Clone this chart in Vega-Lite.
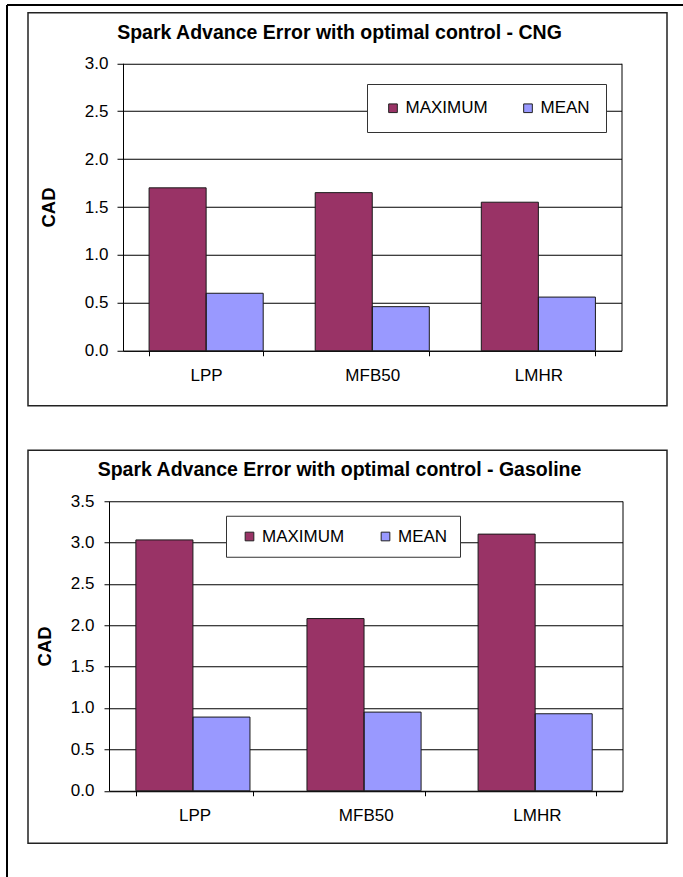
{
  "$schema": "https://vega.github.io/schema/vega-lite/v6.json",
  "padding": {"left": 6.5, "top": 4.5, "right": 0, "bottom": 0},
  "background": "white",
  "config": {
    "font": "Liberation Sans",
    "view": {"stroke": "#222", "strokeWidth": 1.5},
    "axis": {
      "labelFont": "Liberation Sans", "labelColor": "#000", "labelFontSize": 17,
      "titleFont": "Liberation Sans", "titleColor": "#000",
      "domainColor": "#000", "tickColor": "#000", "gridColor": "#000", "gridOpacity": 1, "gridWidth": 1
    },
    "legend": {
      "labelFont": "Liberation Sans", "labelColor": "#000", "labelFontSize": 17
    }
  },
  "data": {"values": [
    {"fuel": "CNG", "method": "LPP", "stat": "MAXIMUM", "value": 1.70},
    {"fuel": "CNG", "method": "LPP", "stat": "MEAN", "value": 0.60},
    {"fuel": "CNG", "method": "MFB50", "stat": "MAXIMUM", "value": 1.65},
    {"fuel": "CNG", "method": "MFB50", "stat": "MEAN", "value": 0.46},
    {"fuel": "CNG", "method": "LMHR", "stat": "MAXIMUM", "value": 1.55},
    {"fuel": "CNG", "method": "LMHR", "stat": "MEAN", "value": 0.56},
    {"fuel": "Gasoline", "method": "LPP", "stat": "MAXIMUM", "value": 3.03},
    {"fuel": "Gasoline", "method": "LPP", "stat": "MEAN", "value": 0.89},
    {"fuel": "Gasoline", "method": "MFB50", "stat": "MAXIMUM", "value": 2.08},
    {"fuel": "Gasoline", "method": "MFB50", "stat": "MEAN", "value": 0.95},
    {"fuel": "Gasoline", "method": "LMHR", "stat": "MAXIMUM", "value": 3.10},
    {"fuel": "Gasoline", "method": "LMHR", "stat": "MEAN", "value": 0.93}
  ]},
  "columns": 1,
  "align": "none",
  "spacing": -863.75,
  "bounds": "flush",
  "concat": [
    {
      "data": {"values": []},
      "width": 676, "height": 872,
      "view": {"stroke": null},
      "mark": "point",
      "encoding": {
        "x": {"field": "fx", "type": "quantitative", "scale": {"domain": [0, 1]},
          "axis": {"orient": "top", "labels": false, "ticks": false, "grid": false, "title": null, "domain": true, "domainColor": "#000", "domainWidth": 2, "minExtent": 0, "maxExtent": 0}},
        "y": {"field": "fy", "type": "quantitative", "scale": {"domain": [0, 1]},
          "axis": {"orient": "left", "labels": false, "ticks": false, "grid": false, "title": null, "domain": true, "domainColor": "#000", "domainWidth": 2, "minExtent": 0, "maxExtent": 0}}
      }
    },
    {
      "spacing": 20.5,
      "bounds": "flush",
      "hconcat": [
        {
          "data": {"values": []},
          "width": 1, "height": 1,
          "view": {"stroke": null},
          "mark": "point"
        },
        {
          "spacing": 44.5,
          "bounds": "flush",
          "resolve": {"scale": {"color": "independent"}, "legend": {"color": "independent"}},
          "vconcat": [
            {
              "width": 639, "height": 393,
              "title": {"text": "Spark Advance Error with optimal control - CNG", "frame": "group", "anchor": "middle", "dx": -8, "offset": -46, "baseline": "alphabetic", "fontSize": 19.5, "fontWeight": "bold", "font": "Liberation Sans", "color": "#000"},
              "transform": [{"filter": "datum.fuel === 'CNG'"}],
              "encoding": {
                "x": {"field": "method", "type": "nominal", "sort": ["LPP", "MFB50", "LMHR"],
                  "scale": {"range": [95, 593.5], "paddingInner": 0.313, "paddingOuter": 0.157},
                  "axis": {"orient": "bottom", "offset": -55, "title": null, "tickBand": "extent", "tickSize": 5, "labelPadding": 12, "labelAngle": 0, "grid": false}},
                "xOffset": {"field": "stat", "type": "nominal", "sort": ["MAXIMUM", "MEAN"], "scale": {"paddingInner": 0, "paddingOuter": 0}}
              },
              "layer": [
                {
                  "mark": {"type": "bar"},
                  "encoding": {
                    "y": {"field": "value", "type": "quantitative",
                      "scale": {"domain": [0, 3], "range": [338, 50.5], "nice": false},
                      "axis": {"orient": "left", "offset": -95, "values": [0, 0.5, 1, 1.5, 2, 2.5, 3], "format": ".1f", "tickSize": 6, "labelPadding": 9, "grid": true, "title": "CAD", "titleFontSize": 18.5, "titleFontWeight": "bold", "titlePadding": 26}},
                    "color": {"field": "stat", "type": "nominal", "sort": ["MAXIMUM", "MEAN"],
                      "scale": {"domain": ["MAXIMUM", "MEAN"], "range": ["#993366", "#9999FF"]},
                      "legend": {"orient": "none", "legendX": 339, "legendY": 71.25, "direction": "horizontal", "title": null, "padding": 15.5, "symbolOffset": 2, "columnPadding": 29, "labelOffset": 4, "symbolType": "square", "symbolSize": 75, "strokeColor": "#333", "fillColor": "#fff", "symbolStrokeColor": "#222", "symbolStrokeWidth": 1, "symbolOpacity": 1}}
                  }
                },
                {
                  "mark": {"type": "bar", "filled": false, "stroke": "#1a1a1a", "strokeWidth": 1},
                  "encoding": {
                    "y": {"field": "value", "type": "quantitative",
                      "scale": {"domain": [0, 3], "range": [338, 50.5], "nice": false},
                      "axis": {"orient": "right", "offset": -45.5, "labels": false, "ticks": false, "grid": false, "title": null}}
                  }
                }
              ],
              "resolve": {"axis": {"y": "independent"}}
            },
            {
              "width": 639, "height": 393,
              "title": {"text": "Spark Advance Error with optimal control - Gasoline", "frame": "group", "anchor": "middle", "dx": -8, "offset": -45, "baseline": "alphabetic", "fontSize": 19.5, "fontWeight": "bold", "font": "Liberation Sans", "color": "#000"},
              "transform": [{"filter": "datum.fuel === 'Gasoline'"}],
              "encoding": {
                "x": {"field": "method", "type": "nominal", "sort": ["LPP", "MFB50", "LMHR"],
                  "scale": {"range": [81, 594.5], "paddingInner": 0.313, "paddingOuter": 0.157},
                  "axis": {"orient": "bottom", "offset": -52.5, "title": null, "tickBand": "extent", "tickSize": 5, "labelPadding": 12, "labelAngle": 0, "grid": false}},
                "xOffset": {"field": "stat", "type": "nominal", "sort": ["MAXIMUM", "MEAN"], "scale": {"paddingInner": 0, "paddingOuter": 0}}
              },
              "layer": [
                {
                  "mark": {"type": "bar"},
                  "encoding": {
                    "y": {"field": "value", "type": "quantitative",
                      "scale": {"domain": [0, 3.5], "range": [340.5, 50.75], "nice": false},
                      "axis": {"orient": "left", "offset": -81, "values": [0, 0.5, 1, 1.5, 2, 2.5, 3, 3.5], "format": ".1f", "tickSize": 5, "labelPadding": 10, "grid": true, "title": "CAD", "titleFontSize": 18.5, "titleFontWeight": "bold", "titlePadding": 16}},
                    "color": {"field": "stat", "type": "nominal", "sort": ["MAXIMUM", "MEAN"],
                      "scale": {"domain": ["MAXIMUM", "MEAN"], "range": ["#993366", "#9999FF"]},
                      "legend": {"orient": "none", "legendX": 198, "legendY": 65.5, "direction": "horizontal", "title": null, "padding": 12, "symbolOffset": 3, "columnPadding": 29, "labelOffset": 4, "symbolType": "square", "symbolSize": 75, "strokeColor": "#333", "fillColor": "#fff", "symbolStrokeColor": "#222", "symbolStrokeWidth": 1, "symbolOpacity": 1}}
                  }
                },
                {
                  "mark": {"type": "bar", "filled": false, "stroke": "#1a1a1a", "strokeWidth": 1},
                  "encoding": {
                    "y": {"field": "value", "type": "quantitative",
                      "scale": {"domain": [0, 3.5], "range": [340.5, 50.75], "nice": false},
                      "axis": {"orient": "right", "offset": -44.5, "labels": false, "ticks": false, "grid": false, "title": null}}
                  }
                }
              ],
              "resolve": {"axis": {"y": "independent"}}
            }
          ]
        }
      ]
    }
  ]
}
